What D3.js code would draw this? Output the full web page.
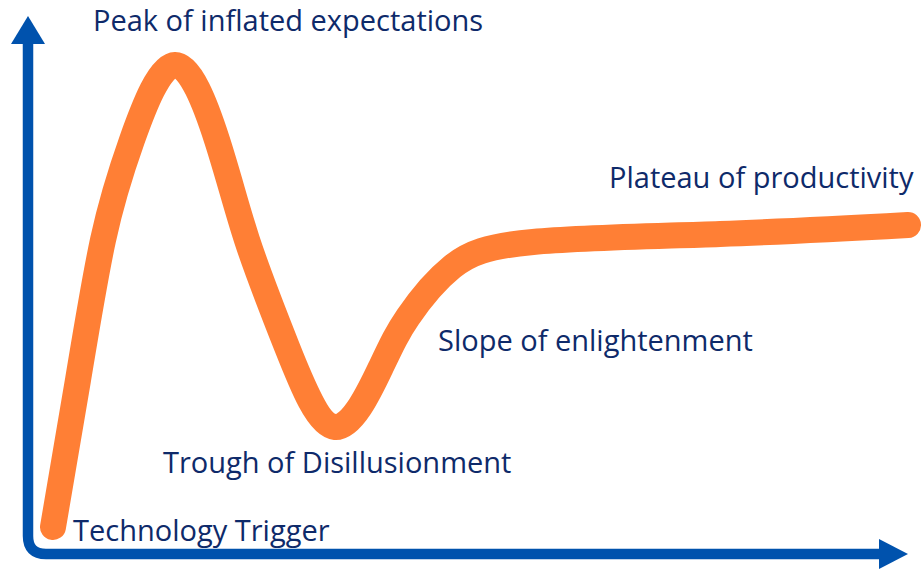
<!DOCTYPE html>
<html>
<head>
<meta charset="utf-8">
<script src="https://cdn.jsdelivr.net/npm/d3@7"></script>
<style>
  body { margin: 0; background: #fff; }
  .label { font-family: "Open Sans", Lato, sans-serif; fill: #0e2a6a; }
</style>
</head>
<body>
<div id="vis"></div>
<script>
// hype cycle: time vs visibility
const TIME       = [25, 50, 75, 104, 147, 189, 219, 259, 307, 353, 380, 424, 505, 692, 880];
const VISIBILITY = [27, 174, 314, 414, 489, 414, 314, 207, 127, 187, 237, 287, 312, 320, 329];

const PHASES   = ["Peak of inflated expectations", "Plateau of productivity", "Slope of enlightenment",
                  "Trough of Disillusionment", "Technology Trigger"];
const PHASE_X  = [65, 581, 410, 135, 45];
const PHASE_Y  = [523, 366, 203, 81, 13];

const FRAME_WIDTH = 921;
const FRAME_HEIGHT = 571;
const ORIGIN = {x: 28, y: 554};

const X_SCALE = d3.scaleLinear().domain([0, 880]).range([ORIGIN.x, 908]);
const Y_SCALE = d3.scaleLinear().domain([0, 538]).range([ORIGIN.y, 16]);

const svg = d3.select("#vis")
  .append("svg")
    .attr("width", FRAME_WIDTH)
    .attr("height", FRAME_HEIGHT);

// axes, drawn as one bent line with two arrow heads
const AXIS_COLOR = "#0052ad";
const r = 18;
svg.append("path")
  .attr("d", `M${ORIGIN.x},40 V${ORIGIN.y - r} Q${ORIGIN.x},${ORIGIN.y} ${ORIGIN.x + r},${ORIGIN.y} H882`)
  .attr("fill", "none")
  .attr("stroke", AXIS_COLOR)
  .attr("stroke-width", 10.5);

svg.append("path")
  .attr("d", `M${ORIGIN.x - 17},44 L${ORIGIN.x + 17},44 L${ORIGIN.x},16 Z`)
  .attr("fill", AXIS_COLOR);

svg.append("path")
  .attr("d", `M879,${ORIGIN.y - 15} L879,${ORIGIN.y + 15} L908,${ORIGIN.y} Z`)
  .attr("fill", AXIS_COLOR);

// the curve
const line = d3.line()
  .x((d, i) => X_SCALE(TIME[i]))
  .y((d, i) => Y_SCALE(VISIBILITY[i]))
  .curve(d3.curveNatural);

svg.append("path")
  .datum(TIME)
  .attr("d", line)
  .attr("fill", "none")
  .attr("stroke", "#ff7f35")
  .attr("stroke-width", 26)
  .attr("stroke-linecap", "round")
  .attr("stroke-linejoin", "round");

// phase labels
svg.selectAll(".label")
  .data(PHASES)
  .enter()
  .append("text")
    .attr("class", "label")
    .attr("x", (d, i) => X_SCALE(PHASE_X[i]))
    .attr("y", (d, i) => Y_SCALE(PHASE_Y[i]))
    .attr("font-size", "29px")
    .text(d => d);
</script>
</body>
</html>
